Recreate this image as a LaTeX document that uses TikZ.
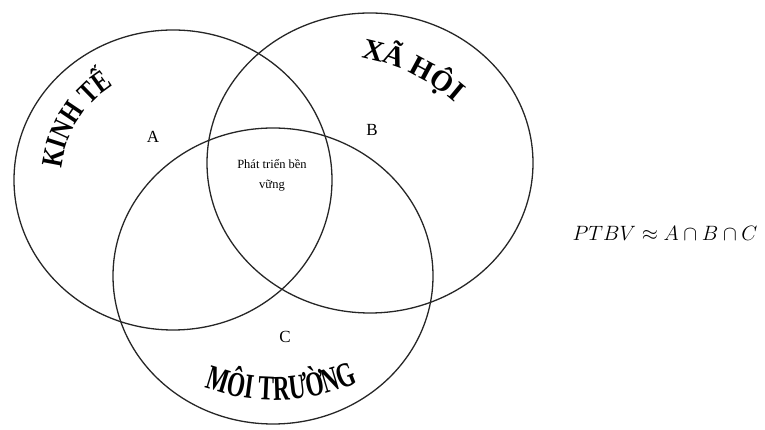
\documentclass[tikz,border=0pt]{standalone}
\usepackage{fontspec}
\setmainfont{Liberation Serif}
\newfontfamily\archfont[FakeStretch=0.8,BoldFeatures={FakeStretch=0.8}]{Liberation Serif}
\newfontfamily\archnarrow[FakeStretch=0.66,BoldFeatures={FakeStretch=0.66}]{Liberation Serif}
\usetikzlibrary{decorations.text,calc}

\begin{document}
\begin{tikzpicture}[
  x=1pt,y=1pt,
  set/.style={draw=black!85,line width=1.3pt},
  setlabel/.style={font=\fontsize{17}{17}\selectfont},
  core/.style={font=\fontsize{12.5}{20}\selectfont,align=center,inner sep=0pt},
  archtext/.style={decorate,decoration={text along path,text align=center}}
]
\useasboundingbox (0,0) rectangle (765,430);

% Three pillars
\coordinate (ecoA) at (173,250);
\coordinate (socB) at (370,267);
\coordinate (envC) at (273,154);
\draw[set] (ecoA) ellipse [x radius=159,y radius=150];
\draw[set] (socB) ellipse [x radius=163,y radius=150];
\draw[set] (envC) ellipse [x radius=160,y radius=148];

% Arched titles
\path[archtext,decoration={text={|\archfont\bfseries\fontsize{30}{30}\selectfont|KINH TẾ}}]
  ($(ecoA)+(178:112)$) arc[start angle=178,end angle=118,radius=112];
\coordinate (socArc) at (325,180);
\path[archtext,decoration={text={|\bfseries\fontsize{29}{29}\selectfont|XÃ HỘI}}]
  ($(socArc)+(88:196)$) arc[start angle=88,end angle=40,radius=196];
\coordinate (envArc) at (275,236);
\path[archtext,decoration={text={|\archnarrow\bfseries\fontsize{35}{35}\selectfont|MÔI TRƯỜNG}}]
  ($(envArc)+(248:206)$) arc[start angle=248,end angle=296,radius=206];

% Region labels
\node[setlabel] (labA) at (153,293) {A};
\node[setlabel] (labB) at (372,300) {B};
\node[setlabel] (labC) at (285,93) {C};
\node[core] (ptbvCore) at (272,255) {Phát triển bền\\vững};

\node[font=\fontsize{21}{21}\selectfont] (ptbv) at (665,197) {$PTBV \approx A\cap B\cap C$};
\end{tikzpicture}
\end{document}
